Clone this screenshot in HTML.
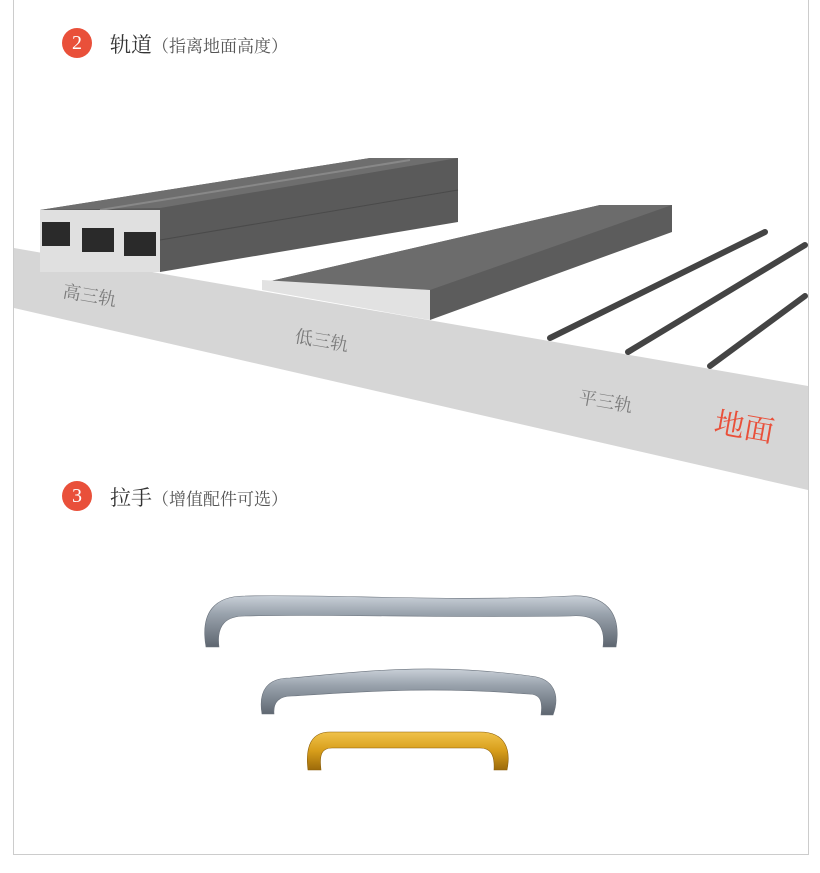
<!DOCTYPE html>
<html><head><meta charset="utf-8"><style>
html,body{margin:0;padding:0;background:#fff;}
body{width:820px;height:873px;position:relative;overflow:hidden;font-family:"Liberation Serif","Noto Serif CJK SC",serif;}
.frame{position:absolute;left:13px;top:-2px;width:794px;height:856px;border:1px solid #ccc;border-top:none;}
.t{position:absolute;font-size:21px;color:#333;}
.t small{font-size:17px;color:#555;}
.c{position:absolute;width:30px;height:30px;border-radius:50%;background:#e9503a;color:#fff;font-size:20px;text-align:center;line-height:30px;}
</style></head><body>
<div class="frame"></div>
<div class="c" style="left:62px;top:28px">2</div>
<div class="t" style="left:110px;top:29px">轨道<small>（指离地面高度）</small></div>
<div class="c" style="left:62px;top:481px">3</div>
<div class="t" style="left:110px;top:482px">拉手<small>（增值配件可选）</small></div>
<svg width="820" height="873" style="position:absolute;left:0;top:0">
<defs>
<linearGradient id="s" x1="0" y1="0" x2="0" y2="1"><stop offset="0" stop-color="#c9d0d8"/><stop offset="0.35" stop-color="#9aa3ad"/><stop offset="1" stop-color="#5e6670"/></linearGradient>
<linearGradient id="g" x1="0" y1="0" x2="0" y2="1"><stop offset="0" stop-color="#f0c24a"/><stop offset="0.5" stop-color="#d79d1a"/><stop offset="1" stop-color="#9c6a0a"/></linearGradient>
</defs>
<polygon points="14,248 808,386 808,490 14,308" fill="#d6d6d6"/>
<polygon points="40,210 370,158 458,158 458,222 160,272 160,210" fill="#5a5a5a"/>
<polygon points="40,210 370,158 458,158 160,208" fill="#6e6e6e"/>
<line x1="100" y1="210" x2="410" y2="160" stroke="#888" stroke-width="2"/>
<line x1="160" y1="240" x2="458" y2="190" stroke="#4a4a4a"/>
<rect x="40" y="210" width="120" height="62" fill="#e0e0e0"/>
<g fill="#2a2a2a"><rect x="42" y="222" width="28" height="24"/><rect x="82" y="228" width="32" height="24"/><rect x="124" y="232" width="32" height="24"/></g>
<polygon points="262,283 600,205 672,205 672,232 430,320 430,290" fill="#5c5c5c"/>
<polygon points="262,283 600,205 672,205 430,290" fill="#6c6c6c"/>
<polygon points="262,280 430,290 430,320 262,290" fill="#e2e2e2"/>
<g stroke="#444" stroke-width="6" stroke-linecap="round">
<line x1="550" y1="338" x2="765" y2="232"/>
<line x1="628" y1="352" x2="805" y2="245"/>
<line x1="710" y1="366" x2="805" y2="296"/>
</g>
<g fill="#7a7a7a" font-size="18" font-family="Liberation Serif,Noto Serif CJK SC,serif">
<text x="62" y="297" transform="rotate(10 62 297)">高三轨</text>
<text x="294" y="342" transform="rotate(10 294 342)">低三轨</text>
<text x="578" y="403" transform="rotate(10 578 403)">平三轨</text>
</g>
<text x="713" y="432" transform="rotate(10 713 432)" fill="#e9503a" font-size="30" font-family="Liberation Serif,Noto Serif CJK SC,serif">地面</text>
<path d="M206,647 C200,612 215,596 245,596 C330,594 450,602 570,596 C605,594 622,612 616,647 L603,647 C606,624 595,614 570,616 C450,618 330,614 245,616 C227,616 216,624 219,647 Z" fill="url(#s)" stroke="#6a727c" stroke-width="0.6"/>
<path d="M262,714 C258,690 268,678 290,678 C360,672 430,662 530,676 C555,678 560,696 553,715 L541,715 C543,700 540,694 528,694 C430,686 360,692 292,696 C279,696 273,702 274,714 Z" fill="url(#s)" stroke="#6a727c" stroke-width="0.6"/>
<path d="M308,770 C305,745 312,732 330,732 L480,732 C506,732 511,750 507,770 L494,770 C495,754 490,748 480,748 L332,748 C322,748 319,754 321,770 Z" fill="url(#g)" stroke="#8a5d08" stroke-width="0.6"/>
</svg>
</body></html>
